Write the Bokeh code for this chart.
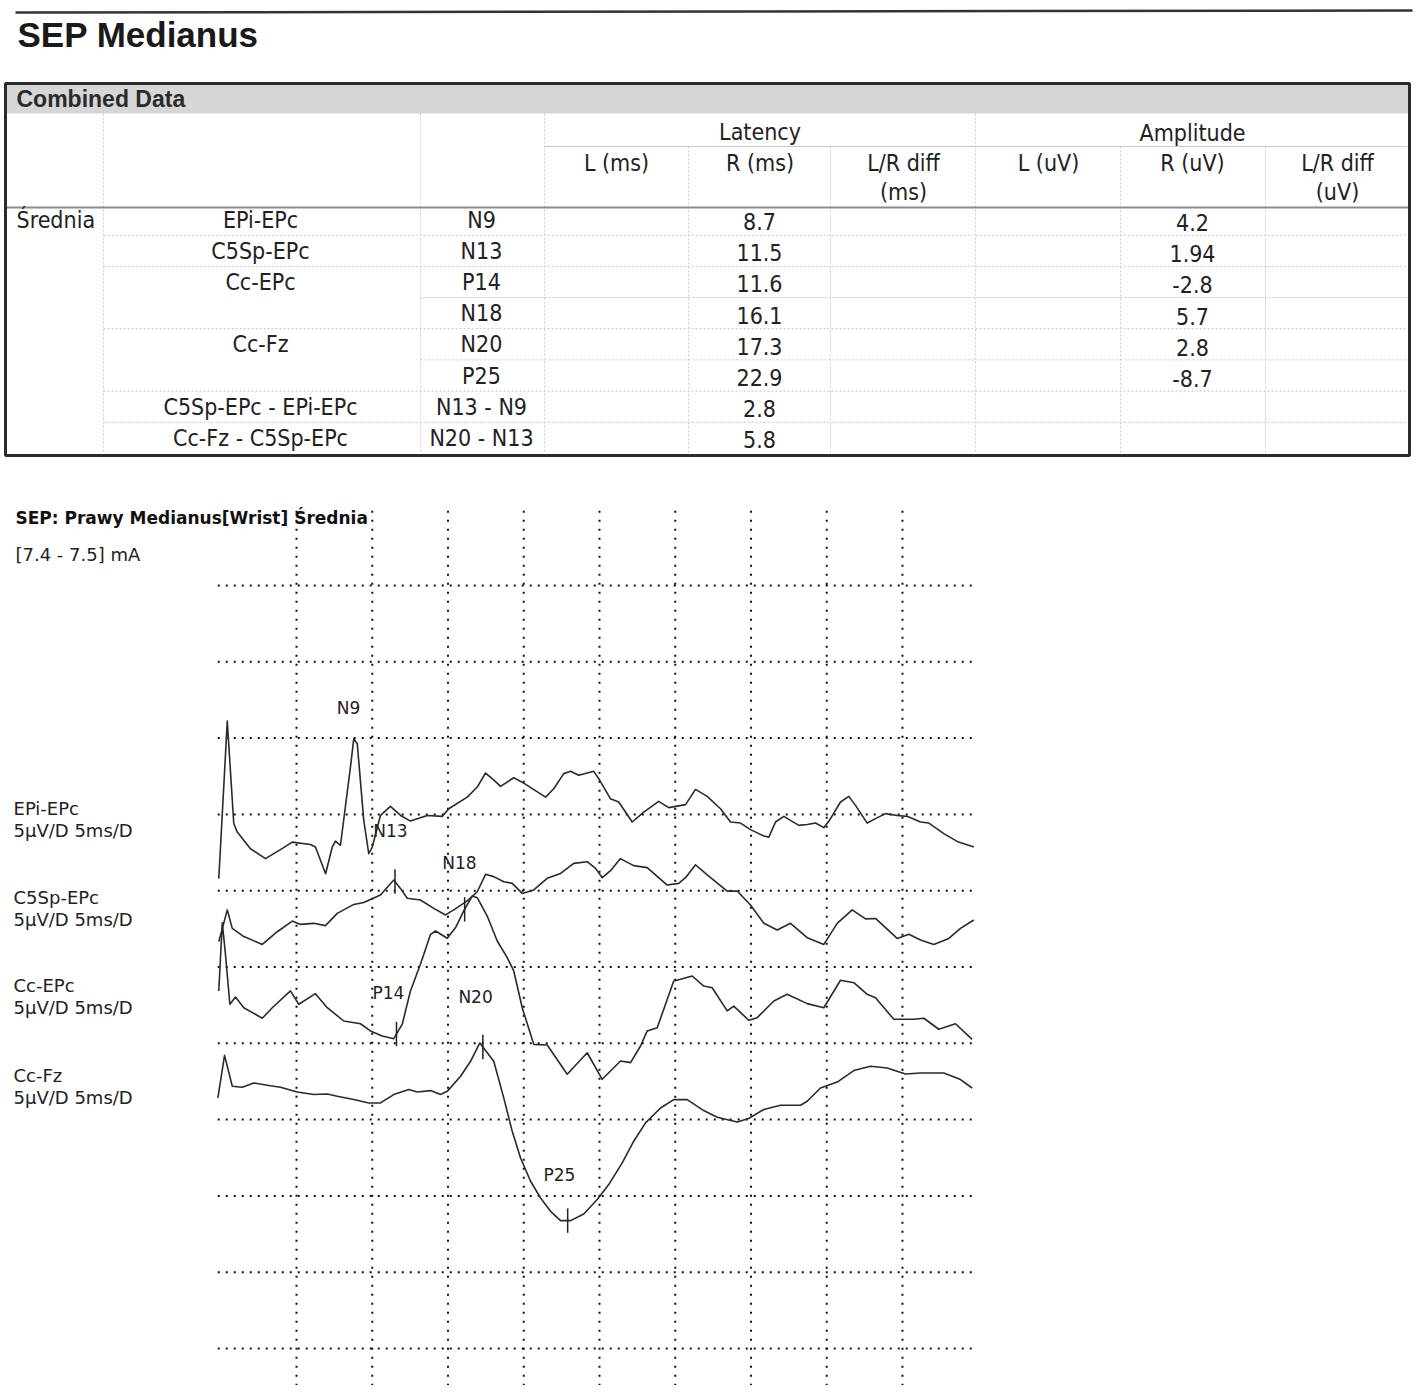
import numpy as np
from bokeh.plotting import figure
from bokeh.models import Range1d
from bokeh.layouts import column
from bokeh.embed import file_html
from bokeh.resources import INLINE
from bokeh.core.properties import value

# ---------------- table data ----------------
report_title = "SEP Medianus"
table_title = "Combined Data"
row_group = "Średnia"
table_montage = ["EPi-EPc", "C5Sp-EPc", "Cc-EPc", "", "Cc-Fz", "", "C5Sp-EPc - EPi-EPc", "Cc-Fz - C5Sp-EPc"]
table_peak = ["N9", "N13", "P14", "N18", "N20", "P25", "N13 - N9", "N20 - N13"]
latency_R_ms = ["8.7", "11.5", "11.6", "16.1", "17.3", "22.9", "2.8", "5.8"]
amplitude_R_uV = ["4.2", "1.94", "-2.8", "5.7", "2.8", "-8.7", "", ""]
group_headers = ["Latency", "Amplitude"]
sub_headers = ["L (ms)", "R (ms)", "L/R diff\n(ms)", "L (uV)", "R (uV)", "L/R diff\n(uV)"]

# ---------------- waveform data (time in ms, amplitude in µV, up = positive) ----------------
chart_title = "SEP: Prawy Medianus[Wrist] Średnia"
stim_text = "[7.4 - 7.5] mA"
channels = ["EPi-EPc", "C5Sp-EPc", "Cc-EPc", "Cc-Fz"]
channel_scale = "5µV/D 5ms/D"

epi_ms = [-0.13, 0.43, 0.86, 1.09, 1.96, 2.95, 3.94, 4.72, 5.92, 6.25, 6.92, 7.36, 7.57, 7.90, 8.56, 8.78, 9.01,
          9.44, 9.77, 10.00, 10.54, 11.20, 11.87, 12.52, 13.63, 14.62, 15.05, 16.27, 16.93, 17.48, 17.92, 18.47,
          19.34, 20.00, 21.44, 21.98, 22.64, 23.09, 23.63, 24.62, 24.95, 25.72, 26.27, 27.16, 27.92, 28.91, 29.57,
          30.68, 31.34, 32.11, 32.99, 33.65, 34.31, 34.97, 35.85, 36.18, 36.62, 37.17, 38.16, 38.71, 39.26, 39.81,
          40.25, 40.91, 41.46, 41.90, 42.67, 43.22, 43.88, 44.65, 45.31, 46.19, 46.74, 47.73, 48.61, 49.71]
epi_uv = [-4.21, 6.11, -0.61, -1.16, -2.25, -2.90, -2.31, -1.82, -1.97, -2.14, -3.89, -2.14, -1.75, -2.03, 3.10, 4.96,
          4.63, -0.39, -2.58, -2.14, -0.07, 0.52, -0.07, -0.44, -0.07, -0.13, 0.37, 1.13, 1.79, 2.71, 2.34, 1.83,
          2.40, 2.05, 1.13, 1.68, 2.67, 2.82, 2.56, 2.82, 2.34, 1.03, 0.81, -0.50, 0.15, 0.85, 0.44, 0.64, 1.64,
          1.18, 0.37, -0.50, -0.57, -1.00, -1.42, -1.49, -0.50, -0.13, -0.72, -0.66, -0.57, -0.87, -0.28, 0.81,
          1.18, 0.59, -0.57, -0.28, 0.05, -0.07, -0.13, -0.50, -0.57, -1.26, -1.77, -2.14]

c5_ms = [-0.13, 0.43, 0.76, 1.52, 2.74, 3.73, 4.72, 5.26, 6.14, 6.91, 7.69, 8.78, 9.44, 10.54, 11.42, 11.86, 12.31,
         13.18, 14.06, 14.84, 15.38, 16.27, 16.93, 17.48, 18.02, 18.68, 19.24, 19.90, 20.66, 21.55, 22.43, 23.30,
         24.19, 24.74, 25.18, 25.73, 26.37, 27.26, 28.15, 29.47, 30.23, 30.68, 31.34, 32.11, 33.43, 34.09, 34.97,
         35.85, 36.73, 37.61, 38.71, 39.81, 40.69, 41.68, 42.56, 43.22, 44.65, 45.42, 46.19, 47.07, 48.06, 48.83,
         49.71]
c5_uv = [-3.34, -1.26, -2.47, -3.01, -3.52, -2.69, -1.99, -2.21, -2.14, -2.29, -1.49, -0.90, -0.77, -0.28, 0.70, 0.15,
         -0.50, -0.61, -1.16, -1.59, -1.26, -0.67, -0.07, 1.07, 0.92, 0.59, 0.48, -0.18, 0.05, 0.81, 1.13, 1.79,
         1.90, 1.46, 0.85, 1.31, 2.10, 1.64, 1.51, 0.37, 0.48, 0.85, 1.70, 1.03, -0.03, -0.02, -0.94, -2.14, -2.58,
         -2.14, -3.08, -3.52, -2.14, -1.26, -1.85, -1.82, -3.13, -2.86, -3.23, -3.52, -3.13, -2.47, -1.92]

cc_epc_ms = [-0.13, 0.10, 0.31, 0.60, 0.97, 1.52, 2.74, 3.40, 4.60, 5.15, 6.25, 7.03, 8.12, 9.22, 9.88, 10.66, 11.42,
             11.98, 12.52, 13.18, 13.85, 14.18, 14.95, 15.50, 16.04, 16.60, 16.93, 17.59, 18.25, 18.91, 19.34, 19.90,
             20.66, 21.55, 22.87, 24.19, 25.18, 26.39, 27.05, 27.71, 28.15, 28.81, 29.36, 29.90, 30.35, 31.12, 31.88,
             32.44, 33.43, 33.86, 34.85, 35.41, 36.51, 37.39, 38.71, 39.81, 40.91, 41.79, 42.67, 43.22, 44.43, 45.75,
             46.41, 47.40, 48.50, 49.60]
cc_epc_uv = [-1.57, 2.90, 0.83, -2.44, -1.97, -2.67, -3.36, -2.67, -1.57, -2.44, -1.75, -2.67, -3.54, -3.72, -4.19,
             -4.52, -4.70, -3.75, -1.57, 0.18, 2.14, 2.36, 1.88, 2.58, 3.67, 4.65, 4.54, 3.34, 1.70, 0.61, -0.26, -2.67,
             -5.07, -5.11, -7.03, -5.62, -7.36, -6.16, -6.27, -5.18, -4.19, -3.98, -2.44, -0.92, -0.81, -0.59, -1.25,
             -1.36, -2.88, -2.56, -3.49, -3.32, -2.23, -1.79, -2.40, -2.67, -0.87, -1.03, -1.79, -2.01, -3.43, -3.43,
             -3.36, -4.08, -3.72, -4.74]

cc_fz_ms = [-0.19, 0.25, 0.76, 1.42, 2.18, 3.07, 3.94, 5.05, 6.14, 7.03, 7.69, 8.78, 9.77, 10.54, 11.42, 12.41, 12.97,
            13.85, 14.50, 14.95, 15.83, 16.49, 17.10, 18.02, 18.68, 19.24, 19.79, 20.45, 21.11, 21.77, 22.43, 23.09,
            23.96, 24.85, 25.61, 26.50, 27.26, 28.04, 29.03, 29.90, 30.79, 31.88, 32.77, 34.09, 34.85, 35.85, 36.95,
            38.27, 38.71, 39.59, 40.69, 41.79, 42.89, 43.99, 45.20, 46.19, 47.73, 48.83, 49.60]
cc_fz_uv = [-3.58, -0.79, -2.82, -2.88, -2.60, -2.75, -2.88, -3.19, -3.36, -3.32, -3.47, -3.69, -3.91, -3.91, -3.36,
            -3.03, -3.19, -3.10, -3.36, -3.15, -2.16, -1.18, 0.02, -1.18, -3.58, -5.77, -7.52, -9.04, -10.14, -11.01,
            -11.62, -11.62, -11.19, -10.24, -9.26, -7.84, -6.42, -5.22, -4.24, -3.69, -3.69, -4.41, -4.85, -5.16,
            -4.93, -4.34, -4.06, -4.06, -3.80, -2.93, -2.54, -1.79, -1.51, -1.62, -2.01, -1.95, -1.95, -2.38, -2.93]

# peak markers: channel index, latency (ms, from the table)
marker_names = ["N13", "P14", "N18", "N20", "P25"]
marker_channel = [1, 2, 2, 3, 3]
marker_latency = [11.5, 11.6, 16.1, 17.3, 22.9]
peak_label_names = ["N9", "N13", "N18", "P14", "N20", "P25"]

# ---------------- layout constants ----------------
W = 1414
TOP_H = 478
BOT_H = 915
TABLE_FONT = "'Liberation Sans Narrow', 'DejaVu Sans Condensed', 'Liberation Sans', sans-serif"
CHART_FONT = "DejaVu Sans"
INK = "#222222"

# ================= top figure: header + table (pixel coordinates) =================
top = figure(width=W, height=TOP_H, x_range=Range1d(0, W), y_range=Range1d(TOP_H, 0),
             output_backend="svg", toolbar_location=None, x_axis_type=None, y_axis_type=None,
             min_border=0, outline_line_color=None)
top.grid.visible = False

top.segment(x0=[15], y0=[12], x1=[1412], y1=[10], line_color="#333333", line_width=2.5)
top.text(x=[17], y=[34], text=[report_title], text_font=value("Liberation Sans"), text_font_style="bold",
         text_font_size=value("35px"), text_baseline="middle", text_color="#1a1a1a")

# header band
top.quad(left=[6], right=[1408], top=[84], bottom=[113], fill_color="#d6d6d6", line_color=None)
top.text(x=[16], y=[98], text=[table_title], text_font=value("Liberation Sans"), text_font_style="bold",
         text_font_size=value("23px"), text_baseline="middle", text_color="#2a2a2a")

row_y = [219 + 31.2 * i for i in range(len(table_peak))]
row_edges = [(row_y[i] + row_y[i + 1]) / 2 for i in range(len(row_y) - 1)]
row_line_start = [420 if table_montage[i + 1] == "" else 103 for i in range(len(row_y) - 1)]
top.segment(x0=row_line_start, y0=row_edges, x1=[1407] * len(row_edges), y1=row_edges,
            line_color="#c4c4c4", line_width=1, line_dash="2 2")

col_x_full = [103, 420, 544, 975]
top.segment(x0=col_x_full, y0=[113] * 4, x1=col_x_full, y1=[453] * 4, line_color="#cdcdcd", line_width=1,
            line_dash="2 2")
col_x_sub = [688, 830, 1120, 1265]
top.segment(x0=col_x_sub, y0=[146] * 4, x1=col_x_sub, y1=[453] * 4, line_color="#cdcdcd", line_width=1,
            line_dash="2 2")
top.segment(x0=[544], y0=[146], x1=[1407], y1=[146], line_color="#c8c8c8", line_width=1)
top.segment(x0=[6], y0=[207], x1=[1408], y1=[207], line_color="#8c8c8c", line_width=2)

# outer frame
top.quad(left=[5], right=[1409], top=[83], bottom=[455], fill_color=None, line_color="#2b2b2b", line_width=3)

tfont = dict(text_font=value(TABLE_FONT), text_font_size=value("23px"), text_color=INK)
top.text(x=[759.5, 1192], y=[131, 132], text=group_headers, text_align="center", text_baseline="middle", **tfont)
sub_x = [616, 759.5, 903, 1048, 1192, 1337]
first_lines = [s.split("\n")[0] for s in sub_headers]
second_lines = [s.split("\n")[1] if "\n" in s else "" for s in sub_headers]
top.text(x=sub_x, y=[162] * 6, text=first_lines, text_align="center", text_baseline="middle", **tfont)
top.text(x=sub_x, y=[191] * 6, text=second_lines, text_align="center", text_baseline="middle", **tfont)
top.text(x=[16], y=[row_y[0]], text=[row_group], text_baseline="middle", **tfont)
top.text(x=[260] * len(row_y), y=row_y, text=table_montage, text_align="center", text_baseline="middle", **tfont)
top.text(x=[481] * len(row_y), y=row_y, text=table_peak, text_align="center", text_baseline="middle", **tfont)
top.text(x=[759] * len(row_y), y=[y + 2 for y in row_y], text=latency_R_ms, text_align="center",
         text_baseline="middle", **tfont)
top.text(x=[1192] * len(row_y), y=[y + 3 for y in row_y], text=amplitude_R_uV, text_align="center",
         text_baseline="middle", **tfont)

# ================= bottom figure: waveforms (ms, µV) =================
bot = figure(width=W, height=BOT_H, x_range=Range1d(-14.54, 78.80), y_range=Range1d(-2.95, 57.01),
             output_backend="svg", toolbar_location=None, x_axis_type=None, y_axis_type=None,
             min_border=0, outline_line_color=None)
bot.grid.visible = False

ms_per_div = 5
uv_per_div = 5
h_levels = [uv_per_div * k for k in range(11)]
bot.multi_line(xs=[[-0.2, 49.8]] * len(h_levels), ys=[[h, h] for h in h_levels],
               line_color="#111111", line_width=2, line_dash="2 6")
v_levels = [ms_per_div * k for k in range(1, 10)]
bot.multi_line(xs=[[v, v] for v in v_levels], ys=[[54.9, -2.4]] * len(v_levels),
               line_color="#111111", line_width=2, line_dash="2 7")

baselines = [35, 30, 25, 20]
traces = [(epi_ms, epi_uv), (c5_ms, c5_uv), (cc_epc_ms, cc_epc_uv), (cc_fz_ms, cc_fz_uv)]
for base, (t, v) in zip(baselines, traces):
    bot.line(t, [base + a for a in v], line_color="#2a2a2a", line_width=1.6, line_join="round")

# latency markers
mx, my0, my1 = [], [], []
for ch, lat in zip(marker_channel, marker_latency):
    t, v = traces[ch]
    yc = baselines[ch] + float(np.interp(lat, t, v))
    mx.append(lat)
    my0.append(yc - 0.8)
    my1.append(yc + 0.8)
bot.segment(x0=mx, y0=my0, x1=mx, y1=my1, line_color="#222222", line_width=1.5)

# peak labels
label_x = [8.43, 11.2, 15.76, 11.07, 16.82, 22.36]
label_y = [42.0, 33.9, 31.8, 23.3, 23.0, 11.34]
bot.text(x=label_x, y=label_y, text=peak_label_names, text_align="center", text_baseline="middle",
         text_font=value(CHART_FONT), text_font_size=value("17px"), text_color=INK)

# titles and channel labels
bot.text(x=[-13.55], y=[54.39], text=[chart_title], text_baseline="middle", text_font=value(CHART_FONT),
         text_font_style="bold", text_font_size=value("17px"), text_color="#111111")
bot.text(x=[-13.55], y=[52.03], text=[stim_text], text_baseline="middle", text_font=value(CHART_FONT),
         text_font_size=value("18px"), text_color=INK)
ch_label_y = [35.39, 29.55, 23.79, 17.89]
bot.text(x=[-13.68] * 4, y=ch_label_y, text=channels, text_baseline="middle", text_font=value(CHART_FONT),
         text_font_size=value("18px"), text_color=INK)
bot.text(x=[-13.68] * 4, y=[y - 1.44 for y in ch_label_y], text=[channel_scale] * 4, text_baseline="middle",
         text_font=value(CHART_FONT), text_font_size=value("18px"), text_color=INK)

layout = column(top, bot)
open("out.html", "w").write(file_html(layout, INLINE))
